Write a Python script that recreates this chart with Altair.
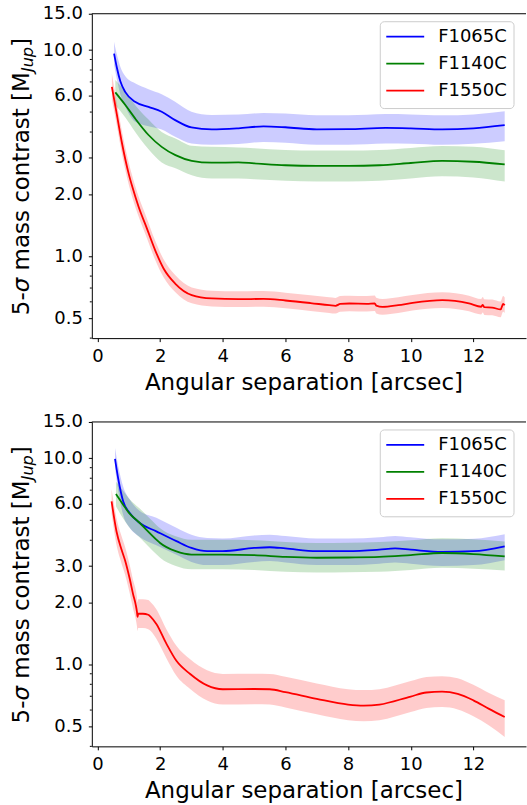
import altair as alt
import pandas as pd

FILTERS = ["F1065C", "F1140C", "F1550C"]
COLORS = ["#0000ff", "#008000", "#ff0000"]

X_TICKS = [0, 2, 4, 6, 8, 10, 12]
Y_TICKS = [0.5, 1.0, 2.0, 3.0, 6.0, 10.0, 15.0]
Y_MINOR = [0.4, 0.6, 0.7, 0.8, 0.9, 4, 5, 7, 8, 9]

# ---------------- top panel ----------------
top_f1065c_sep = [0.53, 0.62, 0.73, 0.89, 1.2, 1.63, 2.05, 2.48, 3.0, 3.65, 4.5, 5.3, 6.0, 7.0, 8.0, 9.2, 10.0, 11.0, 12.0, 13.0]
top_f1065c_mid = [9.6, 8.2, 7.05, 6.25, 5.61, 5.30, 5.02, 4.57, 4.21, 4.12, 4.17, 4.26, 4.22, 4.12, 4.13, 4.19, 4.17, 4.12, 4.17, 4.32]
top_f1065c_hi = [10.97, 9.5, 8.3, 7.45, 6.89, 6.45, 6.1, 5.61, 5.02, 4.84, 4.86, 4.95, 4.92, 4.82, 4.82, 4.89, 4.87, 4.82, 4.87, 5.04]
top_f1065c_lo = [8.45, 7.2, 6.1, 5.3, 4.49, 4.27, 4.11, 3.79, 3.52, 3.47, 3.50, 3.58, 3.55, 3.47, 3.47, 3.52, 3.51, 3.47, 3.51, 3.61]

top_f1140c_sep = [0.57, 0.89, 1.2, 1.63, 2.05, 2.49, 3.01, 3.65, 4.5, 5.0, 6.0, 7.0, 8.0, 9.0, 10.0, 11.0, 12.0, 13.0]
top_f1140c_mid = [6.23, 5.41, 4.66, 3.87, 3.39, 3.09, 2.90, 2.84, 2.85, 2.82, 2.76, 2.74, 2.74, 2.76, 2.83, 2.90, 2.87, 2.79]
top_f1140c_hi = [7.15, 6.3, 5.41, 4.6, 4.0, 3.72, 3.43, 3.39, 3.37, 3.34, 3.27, 3.25, 3.25, 3.27, 3.35, 3.42, 3.39, 3.26]
top_f1140c_lo = [5.41, 4.7, 4.01, 3.3, 2.85, 2.67, 2.47, 2.38, 2.38, 2.36, 2.32, 2.30, 2.30, 2.32, 2.38, 2.44, 2.41, 2.30]

top_f1550c_sep = [0.46, 0.6, 0.78, 1.0, 1.12, 1.31, 1.58, 1.84, 2.11, 2.48, 3.01, 3.65, 4.5, 5.3, 6.0, 6.8, 7.4, 7.6,
                  7.75, 8.04, 8.6, 8.85, 8.9, 9.1, 9.6, 10.06, 11.01, 11.86, 12.25, 12.3, 12.35, 12.6, 12.87, 12.95, 13.0]
top_f1550c_mid = [6.63, 5.05, 3.55, 2.5, 2.15, 1.74, 1.36, 1.07, 0.871, 0.736, 0.647, 0.623, 0.618, 0.620, 0.609, 0.592, 0.578, 0.574,
                  0.586, 0.589, 0.587, 0.590, 0.575, 0.567, 0.578, 0.593, 0.611, 0.589, 0.568, 0.580, 0.565, 0.563, 0.551, 0.586, 0.577]
top_f1550c_hi = [7.7, 5.75, 4.05, 2.83, 2.42, 1.95, 1.52, 1.19, 0.965, 0.81, 0.705, 0.68, 0.675, 0.677, 0.665, 0.646, 0.631, 0.627,
                 0.640, 0.643, 0.641, 0.644, 0.628, 0.619, 0.631, 0.647, 0.667, 0.643, 0.620, 0.633, 0.617, 0.615, 0.602, 0.640, 0.630]
top_f1550c_lo = [5.75, 4.45, 3.14, 2.22, 1.91, 1.56, 1.22, 0.96, 0.79, 0.67, 0.59, 0.57, 0.566, 0.568, 0.558, 0.542, 0.530, 0.526,
                 0.537, 0.540, 0.538, 0.541, 0.527, 0.520, 0.530, 0.544, 0.560, 0.540, 0.521, 0.532, 0.518, 0.516, 0.505, 0.537, 0.529]

# ---------------- bottom panel ----------------
bot_f1065c_sep = [0.56, 0.66, 0.82, 1.03, 1.35, 1.88, 2.52, 3.0, 3.5, 4.0, 5.0, 5.5, 6.0, 7.0, 8.0, 9.0, 9.5, 10.0, 11.0, 12.0, 13.0]
bot_f1065c_mid = [9.93, 8.0, 6.18, 5.42, 4.85, 4.42, 3.96, 3.67, 3.54, 3.54, 3.67, 3.70, 3.65, 3.54, 3.54, 3.60, 3.65, 3.60, 3.51, 3.54, 3.74]
bot_f1065c_hi = [11.2, 9.2, 7.3, 6.3, 5.55, 5.15, 4.6, 4.25, 4.1, 4.08, 4.22, 4.26, 4.2, 4.08, 4.08, 4.14, 4.2, 4.14, 4.04, 4.07, 4.28]
bot_f1065c_lo = [8.95, 7.0, 5.3, 4.6, 4.15, 3.78, 3.4, 3.14, 3.03, 3.03, 3.14, 3.17, 3.12, 3.03, 3.03, 3.08, 3.12, 3.08, 3.0, 3.03, 3.2]

bot_f1140c_sep = [0.59, 0.82, 1.0, 1.35, 1.88, 2.0, 2.5, 3.0, 4.0, 5.0, 6.0, 7.0, 8.0, 9.0, 10.0, 11.0, 12.0, 13.0]
bot_f1140c_mid = [6.70, 5.95, 5.45, 4.85, 4.03, 3.88, 3.54, 3.41, 3.41, 3.39, 3.32, 3.29, 3.30, 3.32, 3.39, 3.47, 3.43, 3.34]
bot_f1140c_hi = [7.71, 6.95, 6.4, 5.7, 4.75, 4.57, 4.18, 4.02, 4.02, 4.0, 3.92, 3.88, 3.89, 3.92, 4.0, 4.09, 4.05, 3.94]
bot_f1140c_lo = [5.85, 5.1, 4.65, 4.12, 3.42, 3.29, 3.0, 2.89, 2.89, 2.87, 2.81, 2.79, 2.80, 2.81, 2.87, 2.94, 2.91, 2.85]

bot_f1550c_sep = [0.45, 0.61, 0.77, 0.88, 1.03, 1.14, 1.22, 1.26, 1.28, 1.30, 1.45, 1.62, 1.70, 1.88, 2.2, 2.52, 2.95,
                  3.5, 4.0, 5.0, 5.5, 6.0, 7.0, 8.0, 8.5, 9.0, 10.0, 10.5, 11.0, 11.5, 12.0, 12.5, 13.0]
bot_f1550c_mid = [6.18, 4.4, 3.6, 3.2, 2.6, 2.18, 1.95, 1.80, 1.70, 1.76, 1.76, 1.74, 1.70, 1.57, 1.26, 1.04, 0.90,
                  0.79, 0.757, 0.759, 0.757, 0.733, 0.680, 0.638, 0.631, 0.638, 0.698, 0.730, 0.737, 0.719, 0.669, 0.608, 0.555]
bot_f1550c_hi = [7.1, 5.1, 4.18, 3.72, 3.03, 2.55, 2.3, 2.12, 2.0, 2.07, 2.07, 2.05, 2.0, 1.85, 1.48, 1.23, 1.06,
                 0.935, 0.898, 0.900, 0.898, 0.870, 0.808, 0.758, 0.750, 0.758, 0.830, 0.868, 0.876, 0.855, 0.795, 0.725, 0.669]
bot_f1550c_lo = [5.4, 3.78, 3.08, 2.73, 2.21, 1.85, 1.66, 1.53, 1.45, 1.50, 1.50, 1.48, 1.45, 1.33, 1.07, 0.88, 0.762,
                 0.668, 0.638, 0.640, 0.638, 0.617, 0.572, 0.536, 0.530, 0.536, 0.587, 0.614, 0.620, 0.604, 0.560, 0.505, 0.444]

TOP = [
    (FILTERS[0], top_f1065c_sep, top_f1065c_mid, top_f1065c_lo, top_f1065c_hi),
    (FILTERS[1], top_f1140c_sep, top_f1140c_mid, top_f1140c_lo, top_f1140c_hi),
    (FILTERS[2], top_f1550c_sep, top_f1550c_mid, top_f1550c_lo, top_f1550c_hi),
]
BOT = [
    (FILTERS[0], bot_f1065c_sep, bot_f1065c_mid, bot_f1065c_lo, bot_f1065c_hi),
    (FILTERS[1], bot_f1140c_sep, bot_f1140c_mid, bot_f1140c_lo, bot_f1140c_hi),
    (FILTERS[2], bot_f1550c_sep, bot_f1550c_mid, bot_f1550c_lo, bot_f1550c_hi),
]


def to_frame(series):
    rows = []
    for name, sep, mid, lo, hi in series:
        for s, m, l, h in zip(sep, mid, lo, hi):
            rows.append({"filter": name, "sep": s, "mid": m, "lo": l, "hi": h})
    return pd.DataFrame(rows)


FONT = "DejaVu Sans"
W, H = 435, 325
LINE_W = 1.8

x_scale = alt.Scale(domain=[-0.18, 13.68], nice=False, zero=False)
y_scale = alt.Scale(type="log", domain=[0.4, 15], nice=False)
c_scale = alt.Scale(domain=FILTERS, range=COLORS)

xaxis = alt.Axis(values=X_TICKS, format="d", title="Angular separation [arcsec]",
                 titleFont=FONT, titleFontSize=23, titleFontWeight="normal", titleColor="black",
                 titlePadding=6, titleX=212, tickSize=3.5, tickColor="black", domainColor="black",
                 labelFont=FONT, labelFontSize=18, labelColor="black", labelPadding=6,
                 labelFlush=False, labelOverlap=False, grid=False)
yaxis = alt.Axis(values=Y_TICKS, format=".1f", title=None, tickSize=3.5, tickColor="black",
                 domainColor="black", labelFont=FONT, labelFontSize=18, labelColor="black",
                 labelPadding=6, labelOverlap=False, grid=False)

# glyph advance widths of DejaVu Sans (em units), used to place the y-title pieces
ADV = {"5": 0.636, "-": 0.361, " ": 0.318, "m": 0.974, "a": 0.613, "s": 0.521, "c": 0.550,
       "o": 0.612, "n": 0.634, "t": 0.392, "r": 0.411, "[": 0.390, "M": 0.863, "]": 0.390,
       "J": 0.295, "u": 0.634, "p": 0.635, "σ": 0.634}


def text_width(s, size):
    return sum(ADV[c] for c in s) * size


# (text, style, font size, sideways shift, gap before)
TITLE_PIECES = [("5-", "normal", 23, 0.0, 0.0), ("σ", "italic", 23, 0.0, 0.0),
                ("mass contrast [M", "normal", 23, 0.0, 0.318 * 23),
                ("Jup", "italic", 16, 3.5, 0.0), ("]", "normal", 23, 0.0, 0.0)]

ONE = alt.Data(values=[{"k": 1}])


def ytitle_layers():
    layers = []
    ypos = 302.0
    for txt, style, size, shift, gap in TITLE_PIECES:
        ypos -= gap
        layers.append(
            alt.Chart(ONE).mark_text(text=txt, font=FONT, fontSize=size, fontStyle=style,
                                     angle=270, align="left", baseline="alphabetic",
                                     color="black")
            .encode(x=alt.value(-62.5 + shift), y=alt.value(ypos))
        )
        ypos -= text_width(txt, size)
    return layers


# legend box geometry (pixels from the plot's top-left corner)
LEG_X0, LEG_X1, LEG_Y0, LEG_Y1 = 289, 423, 8, 95
LEG_ROW0, LEG_STEP = 23, 27
LEG_SYM0, LEG_SYM1, LEG_LABEL = 295, 333, 347


def legend_layers():
    layers = [
        alt.Chart(ONE).mark_rect(fill="white", fillOpacity=0.8, stroke="#cccccc", strokeWidth=1,
                                 cornerRadius=4)
        .encode(x=alt.value(LEG_X0), x2=alt.value(LEG_X1), y=alt.value(LEG_Y0), y2=alt.value(LEG_Y1))
    ]
    for i, (name, col) in enumerate(zip(FILTERS, COLORS)):
        d = alt.Data(values=[{"filter": name}])
        yy = LEG_ROW0 + i * LEG_STEP
        layers.append(
            alt.Chart(d).mark_rule(color=col, strokeWidth=LINE_W)
            .encode(x=alt.value(LEG_SYM0), x2=alt.value(LEG_SYM1), y=alt.value(yy))
        )
        layers.append(
            alt.Chart(d).mark_text(font=FONT, fontSize=18, align="left", baseline="middle",
                                   color="black")
            .encode(text="filter:N", x=alt.value(LEG_LABEL), y=alt.value(yy))
        )
    return layers


def panel(series):
    df = to_frame(series)
    base = alt.Chart(df)
    band = base.mark_area(opacity=0.2, interpolate="monotone").encode(
        x=alt.X("sep:Q", scale=x_scale, axis=xaxis),
        y=alt.Y("lo:Q", scale=y_scale, axis=yaxis),
        y2="hi:Q",
        color=alt.Color("filter:N", scale=c_scale, legend=None),
    )
    line = base.mark_line(strokeWidth=LINE_W, interpolate="monotone").encode(
        x=alt.X("sep:Q", scale=x_scale, axis=xaxis),
        y=alt.Y("mid:Q", scale=y_scale, axis=yaxis),
        color=alt.Color("filter:N", scale=c_scale, legend=None),
    )
    minor = alt.Chart(pd.DataFrame({"v": Y_MINOR})).mark_rule(color="black", strokeWidth=1).encode(
        y=alt.Y("v:Q", scale=y_scale, axis=yaxis),
        x=alt.value(-2), x2=alt.value(0),
    )
    border = alt.Chart(ONE).mark_rule(color="black", strokeWidth=1).encode(
        x=alt.value(0), x2=alt.value(W), y=alt.value(0)
    )
    return alt.layer(band, line, minor, border, *ytitle_layers(), *legend_layers()).properties(
        width=W, height=H)


chart = (
    alt.vconcat(panel(TOP), panel(BOT), spacing=18)
    .properties(padding={"left": 11, "top": 4, "right": 0, "bottom": 2})
    .configure_view(stroke=None)
)

chart.save("out.html", embed_options={"renderer": "svg", "actions": False})
